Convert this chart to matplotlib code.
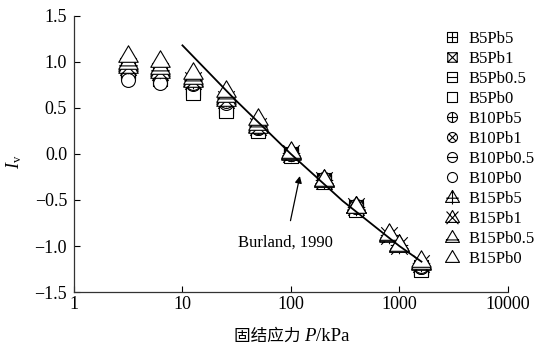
import numpy as np
import matplotlib
matplotlib.use("Agg")
import matplotlib.pyplot as plt
from matplotlib.path import Path

plt.rcParams["font.family"] = ["Liberation Serif", "Noto Sans CJK SC"]
plt.rcParams["mathtext.fontset"] = "custom"
plt.rcParams["mathtext.it"] = "Liberation Serif:italic"
plt.rcParams["mathtext.rm"] = "Liberation Serif"

# consolidation pressure (kPa)
P_B5_B10 = [3.125, 6.25, 12.5, 25, 50, 100, 200, 400, 1600]
P_B15 = [3.125, 6.25, 12.5, 25, 50, 100, 200, 400, 800, 1000, 1600]

labels = ["B5Pb5", "B5Pb1", "B5Pb0.5", "B5Pb0",
          "B10Pb5", "B10Pb1", "B10Pb0.5", "B10Pb0",
          "B15Pb5", "B15Pb1", "B15Pb0.5", "B15Pb0"]

iv_b5pb5 = [0.93, 0.87, 0.72, 0.52, 0.27, 0.00, -0.28, -0.58, -1.23]
iv_b5pb1 = [0.92, 0.86, 0.70, 0.50, 0.26, -0.01, -0.29, -0.59, -1.24]
iv_b5pb05 = [0.90, 0.84, 0.68, 0.49, 0.26, -0.01, -0.29, -0.60, -1.25]
iv_b5pb0 = [0.88, 0.82, 0.66, 0.47, 0.25, -0.02, -0.30, -0.61, -1.26]
iv_b10pb5 = [0.95, 0.89, 0.78, 0.57, 0.29, 0.01, -0.27, -0.57, -1.22]
iv_b10pb1 = [0.94, 0.88, 0.77, 0.56, 0.28, 0.00, -0.28, -0.58, -1.23]
iv_b10pb05 = [0.85, 0.80, 0.76, 0.55, 0.28, 0.00, -0.28, -0.58, -1.23]
iv_b10pb0 = [0.80, 0.77, 0.77, 0.58, 0.29, 0.00, -0.27, -0.57, -1.22]
iv_b15pb5 = [0.98, 0.92, 0.82, 0.62, 0.32, 0.02, -0.27, -0.56, -0.87, -0.98, -1.17]
iv_b15pb1 = [0.96, 0.90, 0.80, 0.60, 0.30, 0.01, -0.28, -0.57, -0.88, -0.99, -1.18]
iv_b15pb05 = [1.00, 0.95, 0.84, 0.64, 0.34, 0.02, -0.28, -0.57, -0.87, -0.99, -1.17]
iv_b15pb0 = [1.07, 1.02, 0.89, 0.70, 0.39, 0.03, -0.27, -0.56, -0.86, -0.98, -1.15]

# intrinsic compression line (Burland, 1990)
icl_p = [10, 30, 100, 300, 1000, 1600]
icl_iv = [1.18, 0.60, 0.00, -0.51, -1.00, -1.17]


def seg(a, b):
    return Path([a, b], [Path.MOVETO, Path.LINETO])


def outline(kind):
    if kind == "s":
        return Path([(-1, -1), (1, -1), (1, 1), (-1, 1), (-1, -1)], closed=True)
    if kind == "o":
        return Path.unit_circle()
    return Path([(0, 1), (-1, -0.7), (1, -0.7), (0, 1)], closed=True)


def inner(kind, deco):
    if deco == "plus":
        if kind == "^":
            return [seg((0, 1), (0, -1)), seg((-0.9, -0.1), (0.9, -0.1))]
        return [seg((0, -1), (0, 1)), seg((-1, 0), (1, 0))]
    if deco == "x":
        if kind == "o":
            r = 0.707
            return [seg((-r, -r), (r, r)), seg((-r, r), (r, -r))]
        if kind == "^":
            return [seg((-0.85, 0.85), (0.85, -0.95)), seg((-0.85, -0.95), (0.85, 0.85))]
        return [seg((-1, -1), (1, 1)), seg((-1, 1), (1, -1))]
    if deco == "h":
        if kind == "^":
            return [seg((-0.95, -0.35), (0.95, -0.35))]
        return [seg((-1, 0), (1, 0))]
    return []


def marker(kind, deco):
    return Path.make_compound_path(outline(kind), *inner(kind, deco))


series = [
    (P_B5_B10, iv_b5pb5, "s", "plus"),
    (P_B5_B10, iv_b5pb1, "s", "x"),
    (P_B5_B10, iv_b5pb05, "s", "h"),
    (P_B5_B10, iv_b5pb0, "s", None),
    (P_B5_B10, iv_b10pb5, "o", "plus"),
    (P_B5_B10, iv_b10pb1, "o", "x"),
    (P_B5_B10, iv_b10pb05, "o", "h"),
    (P_B5_B10, iv_b10pb0, "o", None),
    (P_B15, iv_b15pb5, "^", "plus"),
    (P_B15, iv_b15pb1, "^", "x"),
    (P_B15, iv_b15pb05, "^", "h"),
    (P_B15, iv_b15pb0, "^", None),
]
size = {"s": 9.5, "o": 10, "^": 14}

fig = plt.figure(figsize=(5.46, 3.46), dpi=100)
ax = fig.add_axes([0.1355, 0.156, 0.7945, 0.798])

for (px, iv, kind, deco), lab in zip(series, labels):
    ax.plot(px, iv, linestyle="none", marker=marker(kind, deco),
            markersize=size[kind], markerfacecolor="white",
            markeredgecolor="black", markeredgewidth=0.8, label=lab)

ax.plot(icl_p, icl_iv, color="black", linewidth=1.3, zorder=5)

ax.annotate("Burland, 1990", xy=(121, -0.24), xytext=(90, -0.96),
            ha="center", va="center", fontsize=12,
            arrowprops=dict(arrowstyle="-|>", color="black", lw=0.9,
                            mutation_scale=10, shrinkA=8, shrinkB=0))

ax.set_xscale("log")
ax.set_xlim(1, 10000)
ax.set_ylim(-1.5, 1.5)
ax.set_xticks([1, 10, 100, 1000, 10000])
ax.set_xticklabels(["1", "10", "100", "1000", "10000"])
ax.xaxis.set_minor_locator(matplotlib.ticker.NullLocator())
ax.set_yticks(np.arange(-1.5, 1.51, 0.5))
ax.set_yticklabels([f"{v:.1f}".replace("-", "\u2212") for v in np.arange(-1.5, 1.51, 0.5)])
ax.tick_params(direction="in", length=4, width=0.8, labelsize=13)
ax.tick_params(axis="x", pad=3)
ax.tick_params(axis="y", pad=5)

for side in ["top", "right"]:
    ax.spines[side].set_visible(False)
for side in ["left", "bottom"]:
    ax.spines[side].set_linewidth(0.9)
    ax.spines[side].set_color("#333333")

# x label: Chinese text, italic P, then the unit
t1 = fig.text(234 / 546, 0.014, "固结应力 ", fontsize=12, ha="left",
              va="baseline", family=["Noto Sans CJK SC"])
t2 = ax.annotate("P", xy=(1, 0), xycoords=t1, va="bottom", fontsize=13.5,
                 style="italic", family="Liberation Serif")
ax.annotate("/kPa", xy=(1, 0), xycoords=t2, va="bottom", fontsize=13.5,
            family="Liberation Serif")

ax.set_ylabel("$I_\\mathrm{v}$", fontsize=13)
ax.yaxis.set_label_coords(-0.115, 0.47)

ax.legend(loc="upper left", bbox_to_anchor=(444 / 546, 1 - 31 / 346),
          bbox_transform=fig.transFigure, frameon=False, fontsize=12,
          handlelength=1.0, handletextpad=0.45, labelspacing=0.24,
          markerscale=0.72, borderpad=0, borderaxespad=0)

fig.savefig("out.png", dpi=100)
